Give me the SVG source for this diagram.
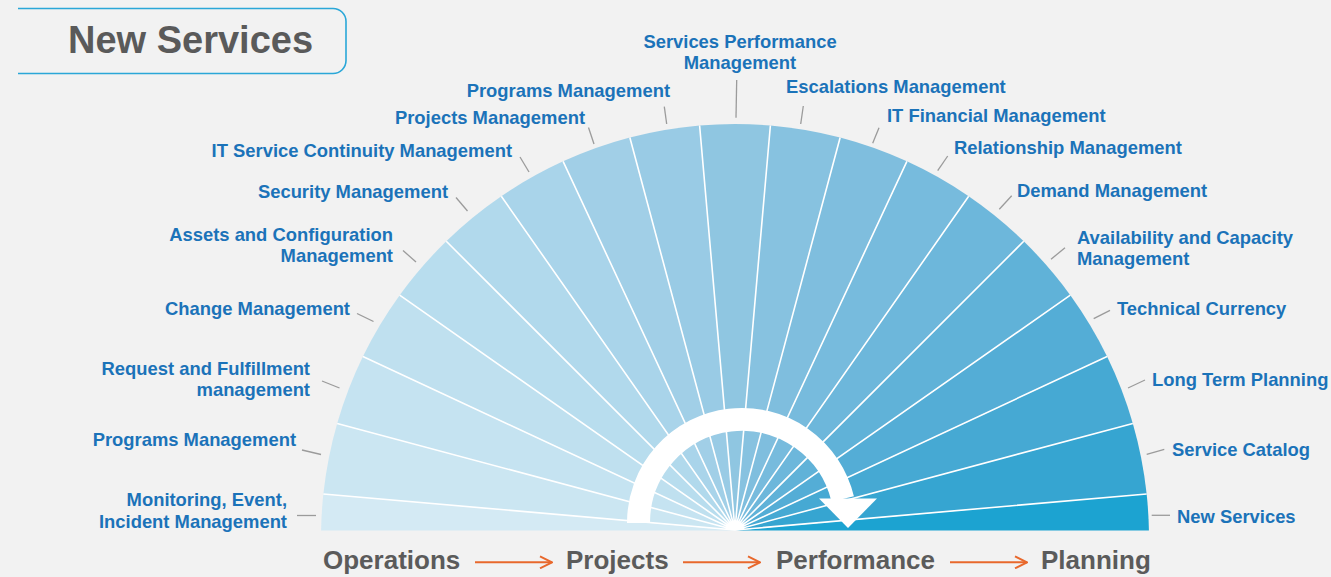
<svg xmlns="http://www.w3.org/2000/svg" width="1331" height="577" viewBox="0 0 1331 577">
  <style>
    .lbl { font-family: "Liberation Sans", Arial, sans-serif; font-weight: bold; font-size: 18.4px; fill: #1b73b9; }
    .end { text-anchor: end; }
    .mid { text-anchor: middle; }
    .phase { font-family: "Liberation Sans", Arial, sans-serif; font-weight: bold; font-size: 26px; fill: #5b5b5b; }
    .lead { stroke: #9b9b9b; stroke-width: 1.3; fill: none; }
    .ray { stroke: #ffffff; stroke-width: 1.6; fill: none; }
    .flow { stroke: #e8682c; stroke-width: 2; fill: none; }
  </style>
  <defs>
    <marker id="chev" viewBox="0 0 14 14" refX="13" refY="7" markerWidth="14" markerHeight="14" markerUnits="userSpaceOnUse" orient="auto">
      <path d="M1,1 L13,7 L1,13" fill="none" stroke="#e8682c" stroke-width="2"/>
    </marker>
  </defs>

  <rect width="1331" height="577" fill="#f2f2f2"/>

  <!-- heading tab -->
  <g id="title">
    <path d="M18,8.5 H333 A13,13 0 0 1 346,21.5 V60.5 A13,13 0 0 1 333,73.5 H18" fill="none" stroke="#2aa7d8" stroke-width="1.6"/>
    <text x="68" y="53" font-family="'Liberation Sans', Arial, sans-serif" font-weight="bold" font-size="38" fill="#5a5a5a">New Services</text>
  </g>

  <!-- fan segments, one per practice -->
  <g id="seg-monitoring">
    <path d="M735,530.5 L321.1,530.5 A414,414 0 0 1 323.35,493.98 Z" fill="#d4eaf4"/>
    <line class="lead" x1="297" y1="515.5" x2="316" y2="515.5"/>
    <text class="lbl end" x="287" y="506">Monitoring, Event,</text>
    <text class="lbl end" x="287" y="528">Incident Management</text>
  </g>
  <g id="seg-programs-ops">
    <path d="M735,530 L323.35,493.98 A414,414 0 0 1 337.18,423.4 Z" fill="#cbe6f2"/>
    <line class="lead" x1="302" y1="450" x2="321" y2="454.5"/>
    <text class="lbl end" x="296" y="446">Programs Management</text>
  </g>
  <g id="seg-request">
    <path d="M735,530 L337.18,423.4 A414,414 0 0 1 362.91,356.49 Z" fill="#c5e3f1"/>
    <line class="lead" x1="322" y1="381" x2="339.5" y2="388"/>
    <text class="lbl end" x="310" y="375">Request and Fulfillment</text>
    <text class="lbl end" x="310" y="396">management</text>
  </g>
  <g id="seg-change">
    <path d="M735,530 L362.91,356.49 A414,414 0 0 1 399.67,295.2 Z" fill="#bfe0ef"/>
    <line class="lead" x1="357" y1="313.5" x2="373.5" y2="321.5"/>
    <text class="lbl end" x="350" y="315">Change Management</text>
  </g>
  <g id="seg-assets">
    <path d="M735,530 L399.67,295.2 A414,414 0 0 1 446.28,241.28 Z" fill="#b8ddee"/>
    <line class="lead" x1="403" y1="250.5" x2="416" y2="262"/>
    <text class="lbl end" x="393" y="241">Assets and Configuration</text>
    <text class="lbl end" x="393" y="262">Management</text>
  </g>
  <g id="seg-security">
    <path d="M735,530 L446.28,241.28 A414,414 0 0 1 501.31,196.26 Z" fill="#b1d9ec"/>
    <line class="lead" x1="456" y1="197.5" x2="467.5" y2="211"/>
    <text class="lbl end" x="448" y="198">Security Management</text>
  </g>
  <g id="seg-continuity">
    <path d="M735,530 L501.31,196.26 A414,414 0 0 1 563.11,161.37 Z" fill="#a9d4ea"/>
    <line class="lead" x1="520" y1="157" x2="529" y2="172"/>
    <text class="lbl end" x="512" y="157">IT Service Continuity Management</text>
  </g>
  <g id="seg-projects">
    <path d="M735,530 L563.11,161.37 A414,414 0 0 1 629.85,137.58 Z" fill="#a1cfe7"/>
    <line class="lead" x1="588.5" y1="127.5" x2="594" y2="144"/>
    <text class="lbl end" x="585" y="124">Projects Management</text>
  </g>
  <g id="seg-programs">
    <path d="M735,530 L629.85,137.58 A414,414 0 0 1 699.61,125.52 Z" fill="#99cbe5"/>
    <line class="lead" x1="664.3" y1="106.7" x2="666.7" y2="124"/>
    <text class="lbl end" x="670" y="97">Programs Management</text>
  </g>
  <g id="seg-performance">
    <path d="M735,530 L699.61,125.52 A414,414 0 0 1 770.39,125.52 Z" fill="#8fc6e1"/>
    <line class="lead" x1="736.7" y1="80" x2="736" y2="117.7"/>
    <text class="lbl mid" x="740" y="48">Services Performance</text>
    <text class="lbl mid" x="740" y="69">Management</text>
  </g>
  <g id="seg-escalations">
    <path d="M735,530 L770.39,125.52 A414,414 0 0 1 840.15,137.58 Z" fill="#87c2e0"/>
    <line class="lead" x1="803.3" y1="106" x2="800.7" y2="124"/>
    <text class="lbl" x="786" y="93">Escalations Management</text>
  </g>
  <g id="seg-financial">
    <path d="M735,530 L840.15,137.58 A414,414 0 0 1 906.89,161.37 Z" fill="#7fbede"/>
    <line class="lead" x1="879" y1="127.7" x2="872.7" y2="143.3"/>
    <text class="lbl" x="887" y="122">IT Financial Management</text>
  </g>
  <g id="seg-relationship">
    <path d="M735,530 L906.89,161.37 A414,414 0 0 1 968.69,196.26 Z" fill="#77bbdd"/>
    <line class="lead" x1="947.7" y1="156" x2="937.7" y2="170.7"/>
    <text class="lbl" x="954" y="154">Relationship Management</text>
  </g>
  <g id="seg-demand">
    <path d="M735,530 L968.69,196.26 A414,414 0 0 1 1023.72,241.28 Z" fill="#6db7db"/>
    <line class="lead" x1="1011.7" y1="195.7" x2="999.3" y2="209.3"/>
    <text class="lbl" x="1017" y="197">Demand Management</text>
  </g>
  <g id="seg-availability">
    <path d="M735,530 L1023.72,241.28 A414,414 0 0 1 1070.33,295.2 Z" fill="#60b2d8"/>
    <line class="lead" x1="1065" y1="247.7" x2="1051" y2="259.3"/>
    <text class="lbl" x="1077" y="244">Availability and Capacity</text>
    <text class="lbl" x="1077" y="265">Management</text>
  </g>
  <g id="seg-currency">
    <path d="M735,530 L1070.33,295.2 A414,414 0 0 1 1107.09,356.49 Z" fill="#54add6"/>
    <line class="lead" x1="1110" y1="310.3" x2="1093.7" y2="318.7"/>
    <text class="lbl" x="1117" y="315">Technical Currency</text>
  </g>
  <g id="seg-longterm">
    <path d="M735,530 L1107.09,356.49 A414,414 0 0 1 1132.82,423.4 Z" fill="#46a9d3"/>
    <line class="lead" x1="1145" y1="380" x2="1128" y2="388"/>
    <text class="lbl" x="1152" y="386">Long Term Planning</text>
  </g>
  <g id="seg-catalog">
    <path d="M735,530 L1132.82,423.4 A414,414 0 0 1 1146.65,493.98 Z" fill="#36a5d1"/>
    <line class="lead" x1="1164.3" y1="449.3" x2="1146.7" y2="454.3"/>
    <text class="lbl" x="1172" y="456">Service Catalog</text>
  </g>
  <g id="seg-new">
    <path d="M735,530.5 L1146.65,493.98 A414,414 0 0 1 1148.9,530.5 Z" fill="#1ca3d1"/>
    <line class="lead" x1="1151.7" y1="515.3" x2="1170" y2="515.3"/>
    <text class="lbl" x="1177" y="523">New Services</text>
  </g>

  <!-- white dividers between segments -->
  <g id="rays" class="ray">
    <path d="M735,530 L323.35,493.98 M735,530 L337.18,423.4 M735,530 L362.91,356.49 M735,530 L399.67,295.2 M735,530 L446.28,241.28 M735,530 L501.31,196.26 M735,530 L563.11,161.37 M735,530 L629.85,137.58 M735,530 L699.61,125.52 M735,530 L770.39,125.52 M735,530 L840.15,137.58 M735,530 L906.89,161.37 M735,530 L968.69,196.26 M735,530 L1023.72,241.28 M735,530 L1070.33,295.2 M735,530 L1107.09,356.49 M735,530 L1132.82,423.4 M735,530 L1146.65,493.98"/>
  </g>

  <!-- cycle arrow over the hub -->
  <g id="cycle-arrow" fill="#ffffff">
    <path d="M638.5,523 A103.5,103.5 0 0 1 842.7,499" fill="none" stroke="#ffffff" stroke-width="23"/>
    <polygon points="819,498.5 877,498.5 848,528"/>
  </g>

  <!-- lifecycle phases -->
  <g id="phase-operations"><text class="phase" x="323" y="569">Operations</text></g>
  <g id="phase-projects"><text class="phase" x="566" y="569">Projects</text></g>
  <g id="phase-performance"><text class="phase" x="776" y="569">Performance</text></g>
  <g id="phase-planning"><text class="phase" x="1041" y="569">Planning</text></g>

  <g id="connectors" class="flow">
    <line x1="475" y1="562.3" x2="552" y2="562.3" marker-end="url(#chev)"/>
    <line x1="683" y1="562.3" x2="760" y2="562.3" marker-end="url(#chev)"/>
    <line x1="950" y1="562.3" x2="1027" y2="562.3" marker-end="url(#chev)"/>
  </g>
</svg>
